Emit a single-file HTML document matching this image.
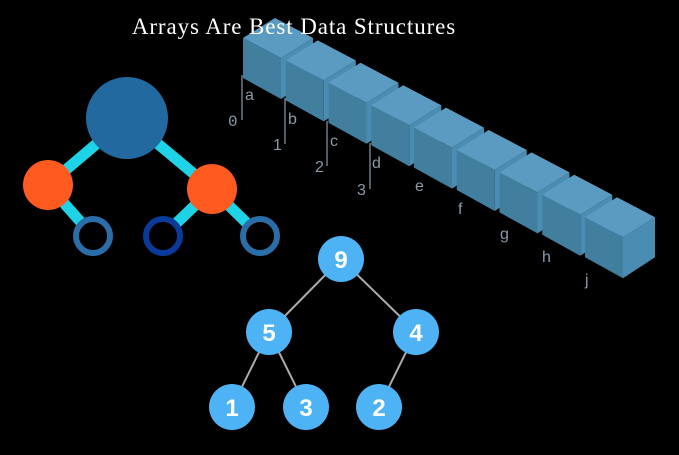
<!DOCTYPE html><html><head><style>body{margin:0;background:#000;width:679px;height:450px;overflow:hidden}</style></head><body>
<svg width="679" height="450" xmlns="http://www.w3.org/2000/svg">
<rect width="679" height="450" fill="#000"/>
<g id="cubes"></g>
<g font-family="Liberation Sans, sans-serif" font-size="16" fill="#8a9aa8">
<line x1="242" y1="75" x2="242" y2="120" stroke="#8a9aa8" stroke-width="1.2"/>
<line x1="285" y1="98" x2="285" y2="144" stroke="#8a9aa8" stroke-width="1.2"/>
<line x1="327" y1="121" x2="327" y2="166" stroke="#8a9aa8" stroke-width="1.2"/>
<line x1="370" y1="143" x2="370" y2="189" stroke="#8a9aa8" stroke-width="1.2"/>
<text x="228" y="126" font-family="Liberation Mono, monospace">0</text>
<text x="273" y="150">1</text><text x="315" y="172">2</text><text x="357" y="195">3</text>
<text x="245" y="100">a</text><text x="288" y="124">b</text><text x="330" y="146">c</text><text x="372" y="168">d</text>
<text x="415" y="191">e</text><text x="458" y="214">f</text><text x="500" y="239">g</text><text x="542" y="262">h</text><text x="585" y="285">j</text>
</g>
<text x="294" y="34" text-anchor="middle" font-family="Liberation Serif, serif" font-size="23" letter-spacing="0.9" fill="#fff">Arrays Are Best Data Structures</text>
<g stroke="#1fd3e6" stroke-width="11">
<line x1="127" y1="118" x2="48" y2="185"/><line x1="127" y1="118" x2="212" y2="189"/>
<line x1="48" y1="185" x2="93" y2="236"/><line x1="212" y1="189" x2="163" y2="236"/><line x1="212" y1="189" x2="260" y2="236"/>
</g>
<circle cx="127" cy="118" r="41" fill="#2269a0"/>
<circle cx="48" cy="185" r="25" fill="#ff5a1f"/><circle cx="212" cy="189" r="25" fill="#ff5a1f"/>
<g fill="#000" stroke-width="6"><circle cx="93" cy="236" r="17" stroke="#2a6da8"/><circle cx="163" cy="236" r="17" stroke="#0a3a9a"/><circle cx="260" cy="236" r="17" stroke="#2a6da8"/></g>
<g stroke="#aaa" stroke-width="2"><line x1="341" y1="259" x2="269" y2="332"/><line x1="341" y1="259" x2="416" y2="332"/><line x1="269" y1="332" x2="232" y2="407"/><line x1="269" y1="332" x2="306" y2="407"/><line x1="416" y1="332" x2="379" y2="407"/></g>
<g fill="#4db3f5"><circle cx="341" cy="259" r="23"/><circle cx="269" cy="332" r="23"/><circle cx="416" cy="332" r="23"/><circle cx="232" cy="407" r="23"/><circle cx="306" cy="407" r="23"/><circle cx="379" cy="407" r="23"/></g>
<g fill="#fff" font-family="Liberation Sans, sans-serif" font-weight="bold" font-size="24" text-anchor="middle">
<text x="341" y="268">9</text><text x="269" y="341">5</text><text x="416" y="341">4</text><text x="232" y="416">1</text><text x="306" y="416">3</text><text x="379" y="416">2</text></g>
</svg>
<script>
var g=document.getElementById('cubes'),s='';
for(var i=0;i<9;i++){var x=243+i*42.75,y=38+i*22.4;
s+='<polygon points="'+x+','+y+' '+(x+32)+','+(y-20)+' '+(x+70)+','+y+' '+(x+38)+','+(y+20)+'" fill="#5b9bc2"/>';
s+='<polygon points="'+x+','+y+' '+(x+38)+','+(y+20)+' '+(x+38)+','+(y+61)+' '+x+','+(y+40)+'" fill="#427f9f"/>';
s+='<polygon points="'+(x+38)+','+(y+20)+' '+(x+70)+','+y+' '+(x+70)+','+(y+40)+' '+(x+38)+','+(y+61)+'" fill="#4b8db2"/>';}
g.innerHTML=s;
</script>
</body></html>
